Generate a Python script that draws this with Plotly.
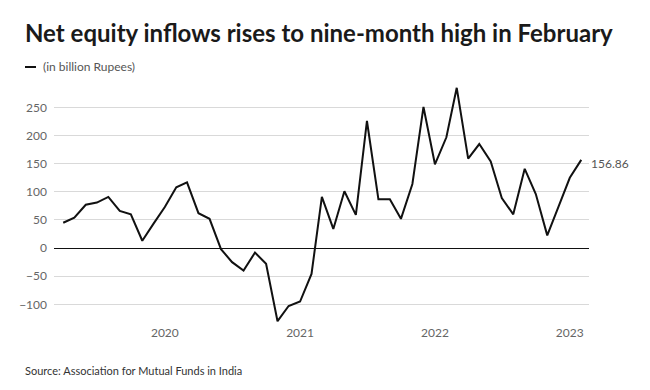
import plotly.graph_objects as go
import pandas as pd

months = pd.date_range("2019-04-01", "2023-02-01", freq="MS")
values = [45, 54, 77, 81, 91, 66, 60, 13, 43, 73, 108, 117,
          62, 52, -2, -25, -40, -8, -28, -130, -103, -95, -46, 91,
          34, 101, 59, 226, 87, 87, 52, 114, 251, 149, 197, 285,
          159, 185, 154, 89, 60, 141, 96, 22.6, 73, 125, 156.86]
y_ticks = [-100, -50, 0, 50, 100, 150, 200, 250]
x_ticks = ["2020-01-01", "2021-01-01", "2022-01-01", "2023-01-01"]
x_labels = ["2020", "2021", "2022", "2023"]

FONT = "Lato"
W, H = 642, 382
L, R, T, B = 46, 61, 77, 66
PW, PH = W - L - R, H - T - B

fig = go.Figure()
fig.add_trace(go.Scatter(x=months, y=values, mode="lines",
                         line=dict(color="#111111", width=2),
                         hoverinfo="x+y", showlegend=False))
fig.add_annotation(x=months[-1], y=values[-1], text=f"{values[-1]:.2f}",
                   showarrow=False, xanchor="left", xshift=8, yshift=-4,
                   font=dict(family=FONT, size=12, color="#555555"))

fig.update_layout(
    width=W, height=H,
    margin=dict(l=L, r=R, t=T, b=B, autoexpand=False),
    paper_bgcolor="white", plot_bgcolor="white",
    font=dict(family=FONT, color="#666666", size=12),
    title=dict(text="<b>Net equity inflows rises to nine-month high in February</b>",
               x=17 / W, xref="container", xanchor="left",
               y=1 - 17 / H, yref="container", yanchor="top",
               font=dict(family=FONT, size=24, color="#1a1a1a")),
    xaxis=dict(type="date", range=["2019-03-07", "2023-02-22"],
               tickvals=x_ticks, ticktext=x_labels, showgrid=False,
               zeroline=False, showline=False, ticks="", automargin=False,
               tickfont=dict(family=FONT, size=12, color="#666666")),
    yaxis=dict(range=[-135, 290], tickvals=y_ticks, showgrid=True,
               gridcolor="#d9d9d9", gridwidth=1, zeroline=True,
               zerolinecolor="#111111", zerolinewidth=1.2,
               ticks="", ticklabelstandoff=6, automargin=False,
               tickfont=dict(family=FONT, size=12, color="#666666")),
)
# legend-like key (screen coords: plot area starts at x=54, y=85)
key_y = (324 - 67) / PH
fig.add_shape(type="line", xref="paper", yref="paper",
              x0=(25 - 54) / PW, x1=(36 - 54) / PW, y0=key_y, y1=key_y,
              line=dict(color="#111111", width=2))
fig.add_annotation(xref="paper", yref="paper", x=(41 - 54) / PW, y=key_y,
                   text="(in billion Rupees)", showarrow=False, xanchor="left",
                   yanchor="middle", font=dict(family=FONT, size=12, color="#555555"))
fig.add_annotation(xref="paper", yref="paper", x=(23 - 54) / PW, y=-(370 - 324) / PH,
                   text="Source: Association for Mutual Funds in India",
                   showarrow=False, xanchor="left", yanchor="middle",
                   font=dict(family=FONT, size=11, color="#333333"))
fig.write_html("out.html")
